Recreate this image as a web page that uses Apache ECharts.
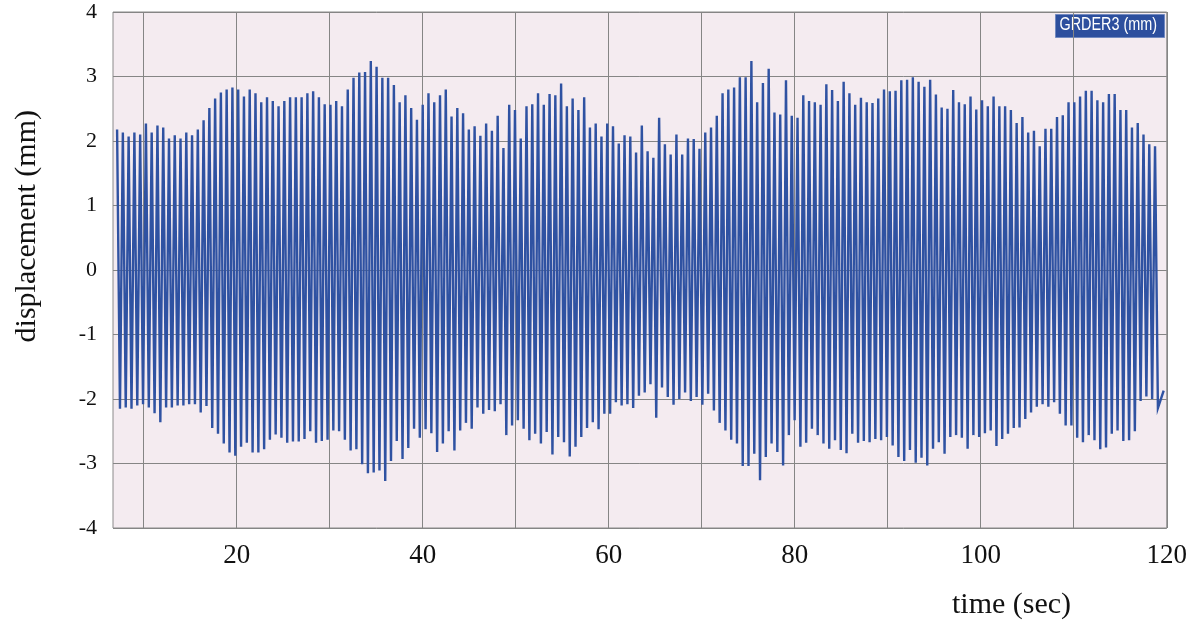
<!DOCTYPE html>
<html><head><meta charset="utf-8">
<script src="https://cdn.jsdelivr.net/npm/echarts@6/dist/echarts.min.js"></script>
<style>html,body{margin:0;padding:0;background:#fff}#c{width:1190px;height:628px}</style>
</head><body><div id="c"></div>
<script>
// time of first positive peak and spacing between successive peaks (s)
var T0 = 7.14;
var DT = 0.62;
// positive peak values (mm)
var upperPeaks = [
2.18,2.13,2.07,2.13,2.10,2.27,2.13,2.24,2.21,2.04,
2.09,2.04,2.13,2.09,2.18,2.32,2.51,2.66,2.75,2.80,
2.83,2.80,2.69,2.80,2.74,2.60,2.68,2.62,2.54,2.62,
2.68,2.68,2.68,2.74,2.77,2.68,2.57,2.56,2.62,2.54,
2.80,2.98,3.06,3.07,3.24,3.15,2.98,2.98,2.87,2.60,
2.71,2.51,2.33,2.56,2.74,2.60,2.71,2.80,2.38,2.51,2.43,
2.18,2.23,2.08,2.27,2.16,2.39,1.89,2.56,2.48,2.04,
2.54,2.57,2.74,2.56,2.73,2.71,2.89,2.54,2.66,2.48,
2.68,2.21,2.27,2.07,2.27,2.23,1.96,2.09,2.07,1.82,
2.24,1.84,1.74,2.36,1.95,1.79,2.10,1.79,2.04,2.03,
1.88,2.13,2.21,2.39,2.74,2.80,2.83,2.99,2.99,3.24,
2.60,2.90,3.12,2.44,2.41,2.94,2.39,2.36,2.71,2.62,2.60,
2.56,2.88,2.79,2.62,2.92,2.74,2.56,2.67,2.60,2.59,
2.66,2.80,2.77,2.78,2.94,2.95,2.99,2.92,2.84,2.95,
2.72,2.52,2.50,2.79,2.60,2.57,2.69,2.49,2.63,2.54,
2.69,2.54,2.54,2.48,2.28,2.37,2.13,2.16,1.92,2.19,
2.19,2.37,2.40,2.60,2.60,2.69,2.78,2.78,2.63,2.60,
2.73,2.73,2.48,2.48,2.21,2.28,2.10,1.95,1.92
];
// negative peak values (mm)
var lowerPeaks = [
-2.15,-2.13,-2.15,-2.10,-2.08,-2.13,-2.22,-2.36,-2.13,-2.13,
-2.10,-2.10,-2.08,-2.08,-2.21,-2.11,-2.45,-2.54,-2.69,-2.83,
-2.88,-2.74,-2.68,-2.83,-2.83,-2.78,-2.63,-2.55,-2.60,-2.68,
-2.66,-2.66,-2.62,-2.50,-2.68,-2.65,-2.63,-2.49,-2.50,-2.63,
-2.80,-2.78,-3.01,-3.15,-3.14,-3.11,-3.27,-2.96,-2.65,-2.93,
-2.76,-2.46,-2.60,-2.47,-2.53,-2.82,-2.69,-2.50,-2.80,-2.49,-2.37,
-2.46,-2.13,-2.23,-2.17,-2.19,-2.08,-2.56,-2.41,-2.33,-2.46,
-2.64,-2.54,-2.69,-2.51,-2.86,-2.59,-2.67,-2.89,-2.74,-2.59,
-2.45,-2.36,-2.47,-2.23,-2.23,-2.05,-2.10,-2.08,-2.14,-1.95,
-1.90,-1.77,-2.29,-1.82,-1.97,-2.09,-2.00,-1.90,-2.03,-1.97,
-2.09,-1.92,-2.18,-2.37,-2.49,-2.63,-2.69,-3.04,-3.04,-2.85,
-3.26,-2.90,-2.69,-2.82,-3.03,-2.56,-2.33,-2.74,-2.68,-2.46,-2.56,
-2.69,-2.77,-2.64,-2.79,-2.84,-2.54,-2.68,-2.65,-2.67,-2.62,
-2.64,-2.59,-2.72,-2.90,-2.96,-2.79,-2.99,-2.91,-3.03,-2.77,
-2.67,-2.85,-2.59,-2.56,-2.60,-2.77,-2.56,-2.59,-2.53,-2.49,
-2.73,-2.62,-2.54,-2.45,-2.44,-2.31,-2.21,-2.12,-2.08,-2.12,
-2.05,-2.23,-2.41,-2.41,-2.60,-2.67,-2.56,-2.64,-2.78,-2.75,
-2.54,-2.49,-2.65,-2.64,-2.50,-2.03,-1.96,-2.00,-2.14,-1.87
];
var xLabels = [20,40,60,80,100,120];
var xGrid = [10,20,30,40,50,60,70,80,90,100,110,120];

var pts = [];
var n = Math.max(upperPeaks.length, lowerPeaks.length);
for (var i = 0; i < n; i++) {
  if (i < upperPeaks.length) pts.push([T0 + i*DT, upperPeaks[i]]);
  if (i < lowerPeaks.length) pts.push([T0 + (i+0.5)*DT, lowerPeaks[i]]);
}

var serif = "'Liberation Serif','Times New Roman',serif";
var chart = echarts.init(document.getElementById('c'));
chart.setOption({
  animation: false,
  backgroundColor: '#ffffff',
  grid: {left:113, right:20, top:12, bottom:100, show:true, backgroundColor:'#f4ebf0', borderColor:'#8a8a8a', borderWidth:1},
  xAxis: {
    type:'value', min:6.7, max:120,
    axisLine:{show:false}, axisTick:{show:false, customValues:xGrid},
    axisLabel:{customValues:xLabels, fontFamily:serif, fontSize:27, color:'#111', margin:14},
    splitLine:{show:true, lineStyle:{color:'#858585', width:1}}
  },
  yAxis: {
    type:'value', min:-4, max:4, interval:1,
    axisLine:{show:false}, axisTick:{show:false},
    axisLabel:{fontFamily:serif, fontSize:22, color:'#111', margin:16},
    splitLine:{show:true, lineStyle:{color:'#858585', width:1}}
  },
  series: [{
    type:'line', data:pts, showSymbol:false, sampling:null,
    lineStyle:{color:'#2f52a2', width:2.4, join:'miter'}, z:3
  }],
  graphic: [
    {type:'text', left:12, top:110, rotation:Math.PI/2, style:{text:'displacement (mm)', font:"30px 'Liberation Serif', serif", fill:'#111'}},
    {type:'text', left:952, top:590, style:{text:'time (sec)', font:"30px 'Liberation Serif', serif", fill:'#111'}},
    {type:'group', left:1055, top:14, z:10, children:[
      {type:'rect', shape:{x:0, y:0, width:109, height:23}, style:{fill:'#2d4f9e', stroke:'#7189c0', lineWidth:1}},
      {type:'text', x:4, y:2, scaleX:0.8, style:{text:'GRDER3 (mm)', font:"18px 'Liberation Sans', sans-serif", fill:'#ffffff'}}
    ]}
  ]
});
</script></body></html>
